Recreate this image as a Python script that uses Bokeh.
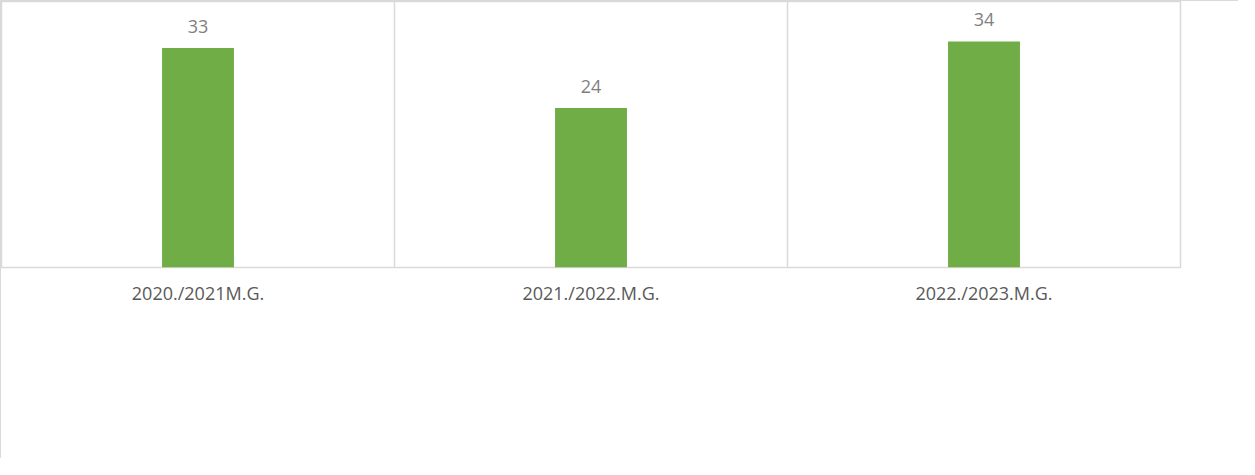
from bokeh.plotting import figure
from bokeh.models import ColumnDataSource, LabelSet, Span
from bokeh.core.properties import value
from bokeh.embed import file_html
from bokeh.resources import INLINE

years = ["2020./2021M.G.", "2021./2022.M.G.", "2022./2023.M.G."]
counts = [33, 24, 34]
labels = [str(v) for v in counts]

src = ColumnDataSource(dict(x=years, y=counts, lbl=labels))

p = figure(x_range=years, y_range=(0, 40), width=1238, height=458,
           output_backend="svg", toolbar_location=None, y_axis_location=None,
           min_border_left=0, min_border_right=59, min_border_top=0, min_border_bottom=192,
           styles={"border-top": "1px solid #d9d9d9", "border-left": "1px solid #d9d9d9"})

p.vbar(x="x", top="y", width=0.183, source=src, fill_color="#70ad47", line_color=None)

p.add_layout(LabelSet(x="x", y="y", text="lbl", source=src, text_align="center",
                      text_baseline="alphabetic", y_offset=15,
                      text_font=value("Open Sans"), text_font_size="18px",
                      text_color="#7f7f7f"))

for loc in [1, 2]:
    p.add_layout(Span(location=loc, dimension="height", line_color="#d9d9d9", line_width=1.5))

p.xgrid.grid_line_color = None
p.ygrid.grid_line_color = None
p.outline_line_color = "#d9d9d9"
p.outline_line_width = 1.5

ax = p.xaxis[0]
ax.axis_line_color = None
ax.major_tick_line_color = None
ax.minor_tick_line_color = None
ax.major_label_text_font = "Open Sans"
ax.major_label_text_font_size = "18px"
ax.major_label_text_color = "#595959"
ax.major_label_standoff = 7

open("out.html", "w").write(file_html(p, INLINE))
